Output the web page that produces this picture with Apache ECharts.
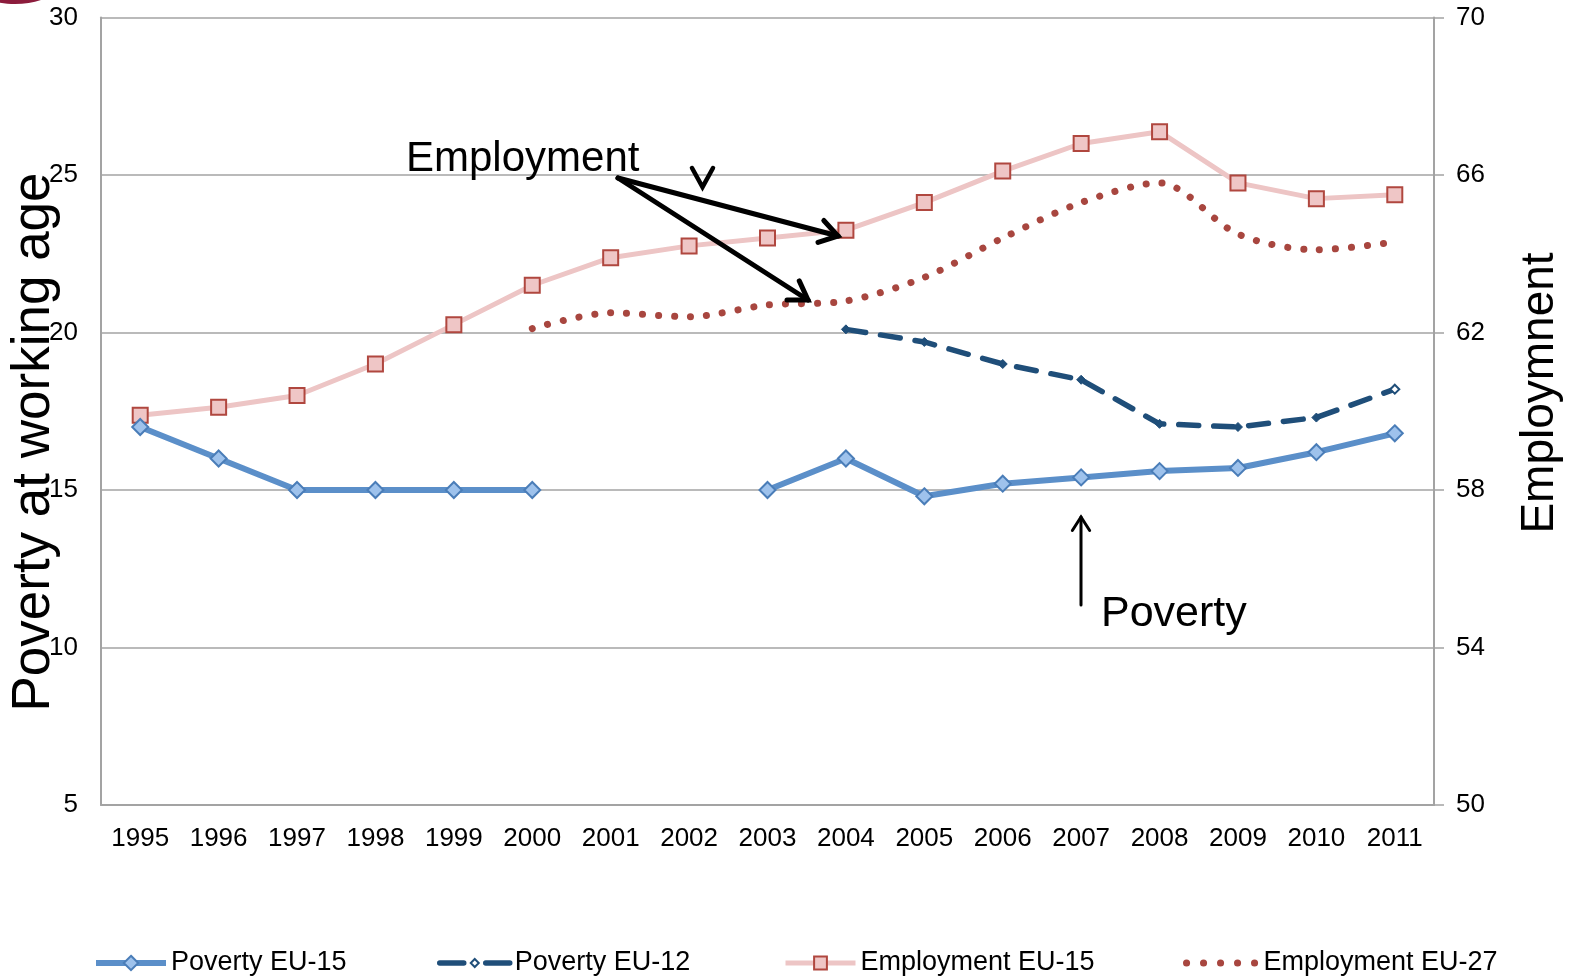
<!DOCTYPE html>
<html>
<head>
<meta charset="utf-8">
<script src="https://cdn.jsdelivr.net/npm/echarts@6/dist/echarts.min.js"></script>
<style>
  html, body { margin: 0; padding: 0; background: #fff; }
  #chart { width: 1579px; height: 978px; }
</style>
</head>
<body>
<div id="chart"></div>
<script>
// Years on the category axis
const years = ['1995', '1996', '1997', '1998', '1999', '2000', '2001', '2002', '2003',
               '2004', '2005', '2006', '2007', '2008', '2009', '2010', '2011'];

// Poverty rate at working age (left axis, %)
const povertyEU15 = [17.0, 16.0, 15.0, 15.0, 15.0, 15.0, null, null, 15.0, 16.0, 14.8, 15.2, 15.4, 15.6, 15.7, 16.2, 16.8];
const povertyEU12 = [null, null, null, null, null, null, null, null, null, 20.1, 19.7, 19.0, 18.5, 17.1, 17.0, 17.3, 18.2];

// Employment rate (right axis, %)
const employmentEU15 = [59.9, 60.1, 60.4, 61.2, 62.2, 63.2, 63.9, 64.2, 64.4, 64.6, 65.3, 66.1, 66.8, 67.1, 65.8, 65.4, 65.5];
const employmentEU27 = [null, null, null, null, null, 62.1, 62.5, 62.4, 62.7, 62.8, 63.4, 64.4, 65.3, 65.8, 64.5, 64.1, 64.3];

// Tick values of both value axes
const povertyTicks = [5, 10, 15, 20, 25, 30];
const employmentTicks = [50, 54, 58, 62, 66, 70];

const SANS = "'Liberation Sans', Arial, sans-serif";
const GRID_GREY = '#a3a3a3';
const EU12_BLUE = '#1F4E79';

const chart = echarts.init(document.getElementById('chart'), null, { renderer: 'canvas' });

// EU-12 markers: hollow at the end of the line, filled where the dashes pass through
const eu12Data = povertyEU12.map((v, i) => {
  const last = i === povertyEU12.length - 1;
  return {
    value: v,
    itemStyle: last ? { color: '#ffffff', borderColor: EU12_BLUE, borderWidth: 2 }
                    : { color: EU12_BLUE, borderColor: EU12_BLUE, borderWidth: 1 }
  };
});

// Arrow built from a shaft and a two-stroke head
function arrow(x1, y1, x2, y2, width, headLen) {
  const a = Math.atan2(y2 - y1, x2 - x1);
  const spread = Math.PI / 5.5;
  const h1 = [x2 - headLen * Math.cos(a - spread), y2 - headLen * Math.sin(a - spread)];
  const h2 = [x2 - headLen * Math.cos(a + spread), y2 - headLen * Math.sin(a + spread)];
  return [
    { type: 'line', z: 100, shape: { x1, y1, x2, y2 },
      style: { stroke: '#000', lineWidth: width, lineCap: 'round' } },
    { type: 'polyline', z: 100, shape: { points: [h1, [x2, y2], h2] },
      style: { stroke: '#000', fill: null, lineWidth: width, lineCap: 'round', lineJoin: 'miter' } }
  ];
}

// One legend block per series so each key sits where it belongs along the bottom
function legendAt(left, name, extra) {
  return Object.assign({
    orient: 'horizontal',
    top: 942,
    left: left,
    itemWidth: 70,
    itemHeight: 18,
    padding: 5,
    data: [name],
    lineStyle: { width: 'inherit' },
    textStyle: { fontFamily: SANS, fontSize: 27, color: '#000', lineHeight: 32 }
  }, extra || {});
}

const option = {
  backgroundColor: '#ffffff',
  animation: false,
  grid: { left: 101, right: 145, top: 17.5, bottom: 173, containLabel: false },
  legend: [
    legendAt(88, 'Poverty EU-15', { itemHeight: 18 }),
    legendAt(432, 'Poverty EU-12', {
      itemHeight: 10,
      lineStyle: { width: 'inherit', type: [24, 22], cap: 'round' },
      itemStyle: { color: '#ffffff', borderColor: EU12_BLUE, borderWidth: 2 }
    }),
    legendAt(778, 'Employment EU-15', { itemHeight: 16 }),
    legendAt(1178, 'Employment EU-27', {
      itemWidth: 72,
      itemHeight: 10,
      lineStyle: { width: 'inherit', type: [0.1, 16.9], cap: 'round' },
      itemStyle: { opacity: 0 }
    })
  ],
  xAxis: {
    type: 'category',
    data: years,
    boundaryGap: true,
    axisLine: { lineStyle: { color: GRID_GREY, width: 2 } },
    axisTick: { show: false },
    axisLabel: { color: '#000', fontFamily: SANS, fontSize: 26, margin: 21, interval: 0 }
  },
  yAxis: [
    {
      type: 'value',
      min: povertyTicks[0],
      max: povertyTicks[povertyTicks.length - 1],
      interval: 5,
      position: 'left',
      axisLine: { show: true, lineStyle: { color: GRID_GREY, width: 2 } },
      axisTick: { show: false },
      axisLabel: { color: '#000', fontFamily: SANS, fontSize: 26, margin: 23 },
      splitLine: { show: true, lineStyle: { color: GRID_GREY, width: 1.5 } }
    },
    {
      type: 'value',
      min: employmentTicks[0],
      max: employmentTicks[employmentTicks.length - 1],
      position: 'right',
      axisLine: { show: true, lineStyle: { color: GRID_GREY, width: 2 } },
      axisTick: { show: true, length: 10, customValues: employmentTicks,
                  lineStyle: { color: GRID_GREY, width: 1.5 } },
      axisLabel: { color: '#000', fontFamily: SANS, fontSize: 26, margin: 22,
                   customValues: employmentTicks },
      splitLine: { show: false }
    }
  ],
  series: [
    {
      name: 'Employment EU-15',
      type: 'line',
      yAxisIndex: 1,
      data: employmentEU15,
      symbol: 'rect',
      symbolSize: 15,
      lineStyle: { color: '#EDC5C5', width: 5 },
      itemStyle: { color: '#EFC6C6', borderColor: '#B0473F', borderWidth: 2 },
      z: 2
    },
    {
      name: 'Employment EU-27',
      type: 'line',
      yAxisIndex: 1,
      data: employmentEU27,
      smooth: 0.3,
      showSymbol: false,
      symbol: 'none',
      lineStyle: { color: '#A8463F', width: 7, type: [0.1, 15.9], cap: 'round' },
      itemStyle: { color: '#A8463F' },
      z: 3
    },
    {
      name: 'Poverty EU-12',
      type: 'line',
      yAxisIndex: 0,
      data: eu12Data,
      symbol: 'diamond',
      symbolSize: 9,
      lineStyle: { color: EU12_BLUE, width: 5.5, type: [20, 15], cap: 'round' },
      itemStyle: { color: EU12_BLUE },
      z: 4
    },
    {
      name: 'Poverty EU-15',
      type: 'line',
      yAxisIndex: 0,
      data: povertyEU15,
      connectNulls: false,
      symbol: 'diamond',
      symbolSize: 16,
      lineStyle: { color: '#5B8FC9', width: 6 },
      itemStyle: { color: '#9EC2EC', borderColor: '#4A7DB8', borderWidth: 2 },
      z: 5
    }
  ],
  graphic: [
    // corner badge, cut by the top edge
    { type: 'ellipse', z: 1, shape: { cx: 15, cy: -26, rx: 52, ry: 30 },
      style: { fill: '#8C1C3C' } },
    // axis titles
    { type: 'text', z: 50, x: 34, y: 442, rotation: Math.PI / 2,
      style: { text: 'Poverty at working age', font: '53px ' + SANS, fill: '#000',
               align: 'center', verticalAlign: 'middle' } },
    { type: 'text', z: 50, x: 1540, y: 393, rotation: Math.PI / 2,
      style: { text: 'Employmnent', font: '46px ' + SANS, fill: '#000',
               align: 'center', verticalAlign: 'middle' } },
    // annotations
    { type: 'text', z: 100, x: 406, y: 159,
      style: { text: 'Employment', font: '42px ' + SANS, fill: '#000',
               align: 'left', verticalAlign: 'middle' } },
    { type: 'text', z: 100, x: 1101, y: 614,
      style: { text: 'Poverty', font: '43px ' + SANS, fill: '#000',
               align: 'left', verticalAlign: 'middle' } },
    ...arrow(618, 178, 838, 236, 5, 21),
    ...arrow(618, 178, 808, 300, 5, 21),
    ...arrow(1081, 605, 1081, 517, 3, 16),
    { type: 'polyline', z: 100, shape: { points: [[692, 168], [702.5, 187], [713, 168]] },
      style: { stroke: '#000', fill: null, lineWidth: 4.5, lineCap: 'round' } }
  ]
};

chart.setOption(option);
</script>
</body>
</html>
